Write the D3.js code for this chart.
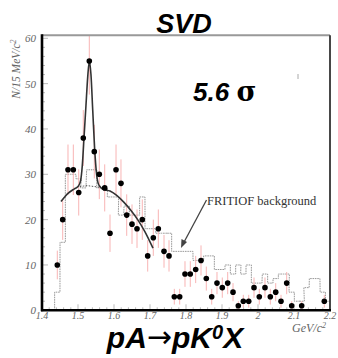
<!DOCTYPE html>
<html><head><meta charset="utf-8">
<script src="https://cdn.jsdelivr.net/npm/d3@7"></script>
<style>body{margin:0;background:#fff}svg{display:block}</style>
</head><body>
<svg id="c" width="338" height="358"></svg>
<script>
// ---- data ----
const massBins = [1.4425,1.4575,1.4722,1.4870,1.5020,1.5147,1.5314,1.5453,1.5592,1.5742,
  1.5889,1.6056,1.6194,1.6353,1.6500,1.6639,1.6786,1.6936,1.7092,1.7231,
  1.7389,1.7528,1.7675,1.7825,1.7972,1.8119,1.8269,1.8417,1.8564,1.8714,
  1.8861,1.9008,1.9158,1.9306,1.9453,1.9592,1.9742,1.9889,2.0036,2.0194,
  2.0342,2.0492,2.0639,2.0797,2.0936,2.1214,2.1842];
const counts = [10,20,31,31,26,38,55,35,30,27,
  17,31,28,21,19,18,20,12,16,18,
  13,12,3,3,8,8,9,11,7,3,
  6,5,6,4,1,2,2,5,3,5,
  3,4,2,6,1,1,2];
// FRITIOF background histogram (bin centres, contents)
const bgMass = [1.4425,1.4575,1.4722,1.4870,1.5020,1.5147,1.5314,1.5453,1.5592,1.5742,
  1.5889,1.6056,1.6194,1.6353,1.6500,1.6639,1.6786,1.6936,1.7092,1.7231,
  1.7389,1.7528,1.7675,1.7825,1.7972,1.8119,1.8269,1.8417,1.8564,1.8714,
  1.8861,1.9008,1.9158,1.9306,1.9453,1.9592,1.9742,1.9889,2.0036,2.0194,
  2.0342,2.0492,2.0639,2.0797,2.0936,2.1083,2.1214,2.1347,2.1500,2.1647,2.1800,2.1947];
const bgCounts = [4,15,30,30,29,27,31,31,27,27,
  25,25,21,23,21,21,25,18,18,17,
  17,17,13,13,13,13,11,11,12,12,
  9,9,10,8,10,8,10,6,6,8,
  6,7,8,8,4,2,2,5,7,7,4,2];
// fit: total (background + signal)
const fitMass = [1.4528,1.4722,1.4900,1.5000,1.5070,1.5120,1.5170,1.5220,1.5270,1.5315,
  1.5360,1.5410,1.5460,1.5510,1.5560,1.5620,1.5694,1.5889,1.6083,1.6278,1.6472,1.6667,1.6861,1.7083];
const fitTotal = [24.0,25.8,26.8,27.3,28.5,32,38.5,45,51.5,55,
  52,44,36,30.5,28,27.2,26.7,26.3,25.3,23.8,22.0,19.9,17.3,13.7];
// fit: background under the peak (dotted)
const bgFitMass = [1.505,1.515,1.525,1.535,1.545,1.555,1.562];
const bgFitVal = [27.3,27.4,27.5,27.4,27.3,27.2,27.1];
const xTicks = [1.4,1.5,1.6,1.7,1.8,1.9,2.0,2.1,2.2];
const xTickLabels = ["1.4","1.5","1.6","1.7","1.8","1.9","2","2.1","2.2"];
const yTicks = [0,10,20,30,40,50,60];

// ---- drawing ----
const svg = d3.select("#c");
const x = d3.scaleLinear().domain([1.4,2.2]).range([42,330]);
const y = d3.scaleLinear().domain([0,60]).range([310.3,38.3]);
const yTop = y(60.7);

svg.append("defs").append("clipPath").attr("id","clip")
  .append("rect").attr("x",x(1.4)).attr("y",yTop).attr("width",x(2.2)-x(1.4)).attr("height",y(0)-yTop);

const plot = svg.append("g").attr("clip-path","url(#clip)");

// minor/major ticks inside
const tickCol = "#aaa";
const yMinor = d3.range(0,61,2);
plot.selectAll(".ym").data(yMinor).join("line")
  .attr("x1",x(1.4)).attr("x2",d=>x(1.4)+(d%10===0?6:3))
  .attr("y1",d=>y(d)).attr("y2",d=>y(d)).attr("stroke",tickCol).attr("stroke-width",0.8);
const xMinor = d3.range(0,41).map(i=>1.4+i*0.02);
plot.selectAll(".xm").data(xMinor).join("line")
  .attr("x1",d=>x(d)).attr("x2",d=>x(d))
  .attr("y1",y(0)).attr("y2",(d,i)=>y(0)-(i%5===0?6:3)).attr("stroke",tickCol).attr("stroke-width",0.8);

// background histogram
const hw = 0.0074;
const steps = [];
bgMass.forEach((m,i)=>{ steps.push([m-hw,bgCounts[i]]); steps.push([m+hw,bgCounts[i]]); });
steps.unshift([bgMass[0]-hw,0]);
steps.push([bgMass[bgMass.length-1]+hw,0]);
plot.append("path").datum(steps)
  .attr("d",d3.line().x(d=>x(d[0])).y(d=>y(d[1])))
  .attr("fill","none").attr("stroke","#999").attr("stroke-width",1)
  .attr("stroke-dasharray","1.6,0.8");

// error bars
plot.selectAll(".eb").data(counts).join("line")
  .attr("x1",(d,i)=>x(massBins[i])).attr("x2",(d,i)=>x(massBins[i]))
  .attr("y1",d=>y(d+Math.sqrt(d))).attr("y2",d=>y(Math.max(0,d-Math.sqrt(d))))
  .attr("stroke","#f8b4b4").attr("stroke-width",1);

// fits
plot.append("path").datum(bgFitMass.map((m,i)=>[m,bgFitVal[i]]))
  .attr("d",d3.line().x(d=>x(d[0])).y(d=>y(d[1])).curve(d3.curveMonotoneX))
  .attr("fill","none").attr("stroke","#555").attr("stroke-width",1).attr("stroke-dasharray","1.5,1.5");
plot.append("path").datum(fitMass.map((m,i)=>[m,fitTotal[i]]))
  .attr("d",d3.line().x(d=>x(d[0])).y(d=>y(d[1])).curve(d3.curveMonotoneX))
  .attr("fill","none").attr("stroke","#333").attr("stroke-width",1.6);

// data points
plot.selectAll(".pt").data(counts).join("circle")
  .attr("cx",(d,i)=>x(massBins[i])).attr("cy",d=>y(d)).attr("r",2.8).attr("fill","#000");

// frame
const L=x(1.4), R=x(2.2), B=y(0);
svg.append("line").attr("x1",L).attr("x2",R).attr("y1",yTop).attr("y2",yTop).attr("stroke","#999").attr("stroke-width",2);
svg.append("line").attr("x1",R).attr("x2",R).attr("y1",yTop).attr("y2",B).attr("stroke","#333").attr("stroke-width",1.8);
svg.append("line").attr("x1",L).attr("x2",L).attr("y1",yTop-1).attr("y2",B+1).attr("stroke","#000").attr("stroke-width",2.6);
svg.append("line").attr("x1",L-1).attr("x2",R+1).attr("y1",B).attr("y2",B).attr("stroke","#000").attr("stroke-width",2.6);

// tick labels
const tf = "'Liberation Serif','Times New Roman',serif";
svg.selectAll(".yl").data(yTicks).join("text")
  .attr("x",36).attr("y",d=>y(d)+4).attr("text-anchor","end")
  .attr("font-family",tf).attr("font-style","italic").attr("font-size",11).attr("fill","#666")
  .text(d=>d);
svg.selectAll(".xl").data(xTicks).join("text")
  .attr("x",d=>x(d)).attr("y",318.5).attr("text-anchor","middle")
  .attr("font-family",tf).attr("font-style","italic").attr("font-size",10).attr("fill","#666")
  .text((d,i)=>xTickLabels[i]);

// axis titles
const yl = svg.append("text").attr("transform","translate(20,69) rotate(-90)")
  .attr("text-anchor","middle").attr("font-family",tf).attr("font-style","italic")
  .attr("font-size",11.5).attr("fill","#666");
yl.append("tspan").text("N/15 MeV/c");
yl.append("tspan").attr("dy",-4).attr("font-size",8).text("2");
const xl = svg.append("text").attr("x",292).attr("y",332)
  .attr("font-family",tf).attr("font-style","italic").attr("font-size",12).attr("fill","#666");
xl.append("tspan").text("GeV/c");
xl.append("tspan").attr("dy",-4).attr("font-size",8).text("2");

// annotation
svg.append("text").attr("x",207).attr("y",205).attr("font-family",tf)
  .attr("font-size",12.5).attr("fill","#333").text("FRITIOF background");
const ax1=[206.5,200], ax2=[181,248];
svg.append("line").attr("x1",ax1[0]).attr("y1",ax1[1]).attr("x2",ax2[0]+1.5).attr("y2",ax2[1]-3)
  .attr("stroke","#444").attr("stroke-width",1.3);
svg.append("path").attr("d",`M${ax2[0]},${ax2[1]} L${ax2[0]+0.5},${ax2[1]-9} L${ax2[0]+6},${ax2[1]-6} Z`).attr("fill","#444");
svg.append("line").attr("x1",298).attr("x2",298).attr("y1",74).attr("y2",79).attr("stroke","#aaa").attr("stroke-width",1);

// titles
const af = "'Liberation Sans',Arial,sans-serif";
svg.append("text").attr("x",184).attr("y",33).attr("text-anchor","middle")
  .attr("font-family",af).attr("font-weight","bold").attr("font-style","italic").attr("font-size",27).text("SVD");
const sg = svg.append("text").attr("x",193).attr("y",101)
  .attr("font-family",af).attr("font-weight","bold").attr("font-style","italic").attr("font-size",26);
sg.append("tspan").text("5.6 ");
sg.append("tspan").attr("font-style","normal").attr("font-weight","bold").attr("font-family","'DejaVu Serif',serif").attr("font-size",27).text("σ");
const bt = svg.append("text").attr("x",175).attr("y",348).attr("text-anchor","middle")
  .attr("font-family",af).attr("font-weight","bold").attr("font-style","italic").attr("font-size",30);
bt.append("tspan").text("pA");
bt.append("tspan").attr("font-weight","normal").attr("font-style","normal").attr("font-family","'DejaVu Sans',sans-serif").attr("font-size",30).attr("dy",-1).text("→");
bt.append("tspan").attr("dy",1).text("pK");
bt.append("tspan").attr("font-size",20).attr("dy",-9).text("0");
bt.append("tspan").attr("dy",9).text("X");
</script>
</body></html>
